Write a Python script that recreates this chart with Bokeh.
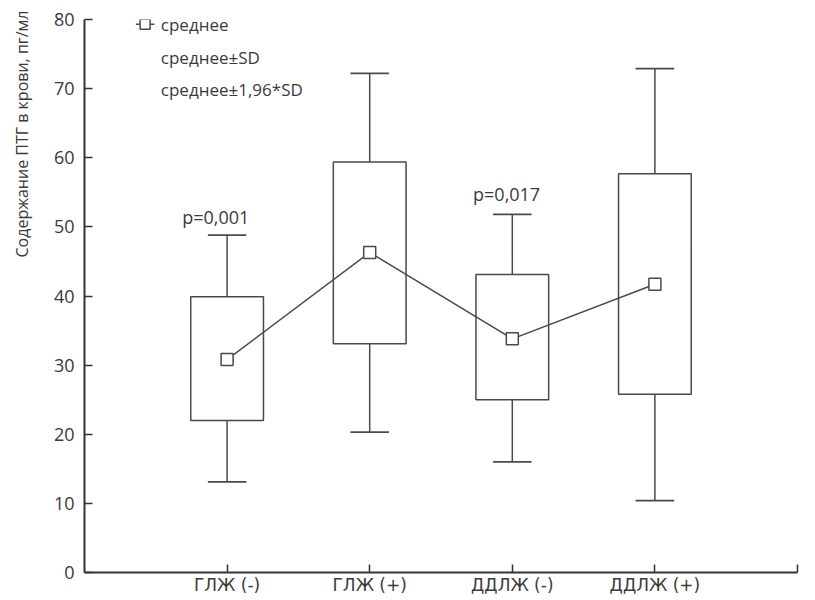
from bokeh.plotting import figure
from bokeh.models import Range1d, FixedTicker, Label, ColumnDataSource, Title
from bokeh.embed import file_html
from bokeh.resources import INLINE

categories = ["ГЛЖ (-)", "ГЛЖ (+)", "ДДЛЖ (-)", "ДДЛЖ (+)"]
mean = [30.8, 46.3, 33.8, 41.7]
sd_low = [22.0, 33.1, 25.0, 25.8]
sd_high = [39.9, 59.4, 43.1, 57.7]
ci_low = [13.1, 20.3, 16.0, 10.4]
ci_high = [48.8, 72.2, 51.8, 72.9]
y_ticks = [0, 10, 20, 30, 40, 50, 60, 70, 80]
p_labels = ["p=0,001", "p=0,017"]
legend_labels = ["среднее", "среднее±SD", "среднее±1,96*SD"]
y_title = "Содержание ПТГ в крови, пг/мл"

FONT = "Open Sans"
INK = "#3a3a3a"
LINE = "#4a4a4a"

xs = [i + 1 for i in range(len(categories))]
box_half = 0.255
cap_half = 0.135

src = ColumnDataSource(dict(
    x=xs, mean=mean, sd_low=sd_low, sd_high=sd_high, ci_low=ci_low, ci_high=ci_high,
    left=[x - box_half for x in xs], right=[x + box_half for x in xs],
    cl=[x - cap_half for x in xs], cr=[x + cap_half for x in xs],
))

p = figure(width=805, height=598, output_backend="svg", toolbar_location=None,
           x_range=Range1d(0, 5), y_range=Range1d(0, 80),
           min_border_left=84, min_border_right=8, min_border_top=19, min_border_bottom=26)
p.outline_line_color = None
p.xgrid.visible = False
p.ygrid.visible = False
p.background_fill_color = "white"
p.border_fill_color = "white"

# whiskers
p.segment(x0="x", y0="sd_high", x1="x", y1="ci_high", source=src, line_color=LINE, line_width=1.5)
p.segment(x0="x", y0="sd_low", x1="x", y1="ci_low", source=src, line_color=LINE, line_width=1.5)
p.segment(x0="cl", y0="ci_high", x1="cr", y1="ci_high", source=src, line_color=LINE, line_width=1.8)
p.segment(x0="cl", y0="ci_low", x1="cr", y1="ci_low", source=src, line_color=LINE, line_width=1.8)
# boxes
p.quad(left="left", right="right", bottom="sd_low", top="sd_high", source=src,
       fill_color="white", fill_alpha=0.0, line_color=LINE, line_width=1.5)
# mean line + markers
p.line(x="x", y="mean", source=src, line_color=LINE, line_width=1.5)
p.scatter(x="x", y="mean", source=src, marker="square", size=12,
          fill_color="white", line_color=LINE, line_width=1.5)

# p-value labels
p.add_layout(Label(x=0.92, y=51.4, text=p_labels[0], text_align="center", text_baseline="middle",
                   text_font=FONT, text_font_size="18px", text_color=INK))
p.add_layout(Label(x=2.96, y=54.7, text=p_labels[1], text_align="center", text_baseline="middle",
                   text_font=FONT, text_font_size="18px", text_color=INK))

# legend (manual)
p.line(x=[0.36, 0.49], y=[79.3, 79.3], line_color=LINE, line_width=1.5)
p.scatter(x=[0.425], y=[79.3], marker="square", size=10, fill_color="white", line_color=LINE, line_width=1.5)
for txt, yy in zip(legend_labels, [79.3, 74.5, 69.9]):
    p.add_layout(Label(x=0.535, y=yy, text=txt, text_align="left", text_baseline="middle",
                       text_font=FONT, text_font_size="17px", text_color=INK))

# y title placed toward the top, as in the reference
p.add_layout(Title(text=y_title, align="right", standoff=16, offset=-9,
                   text_font=FONT, text_font_size="16px", text_font_style="normal",
                   text_color=INK), "left")

# axes
p.yaxis.ticker = FixedTicker(ticks=y_ticks)
p.yaxis.minor_tick_line_color = None
p.yaxis.major_tick_in = 8
p.yaxis.major_tick_out = 0
p.yaxis.major_label_standoff = 10
p.yaxis.axis_label = " "
p.yaxis.axis_label_text_font_size = "6px"
p.yaxis.axis_label_standoff = 1
p.yaxis.axis_line_width = 2
p.yaxis.axis_line_color = "#333333"
p.yaxis.major_tick_line_color = "#333333"
p.yaxis.major_tick_line_width = 1.5
p.yaxis.major_label_text_font = FONT
p.yaxis.major_label_text_font_size = "18px"
p.yaxis.major_label_text_color = INK

p.xaxis.ticker = FixedTicker(ticks=xs + [5])
p.xaxis.major_label_overrides = {**{x: c for x, c in zip(xs, categories)}, 5: ""}
p.xaxis.minor_tick_line_color = None
p.xaxis.major_tick_in = 8
p.xaxis.major_tick_out = 0
p.xaxis.major_label_standoff = 2
p.xaxis.axis_line_width = 2
p.xaxis.axis_line_color = "#333333"
p.xaxis.major_tick_line_color = "#333333"
p.xaxis.major_tick_line_width = 1.5
p.xaxis.major_label_text_font = "DejaVu Sans"
p.xaxis.major_label_text_font_size = "17px"
p.xaxis.major_label_text_color = INK

open("out.html", "w").write(file_html(p, INLINE))
